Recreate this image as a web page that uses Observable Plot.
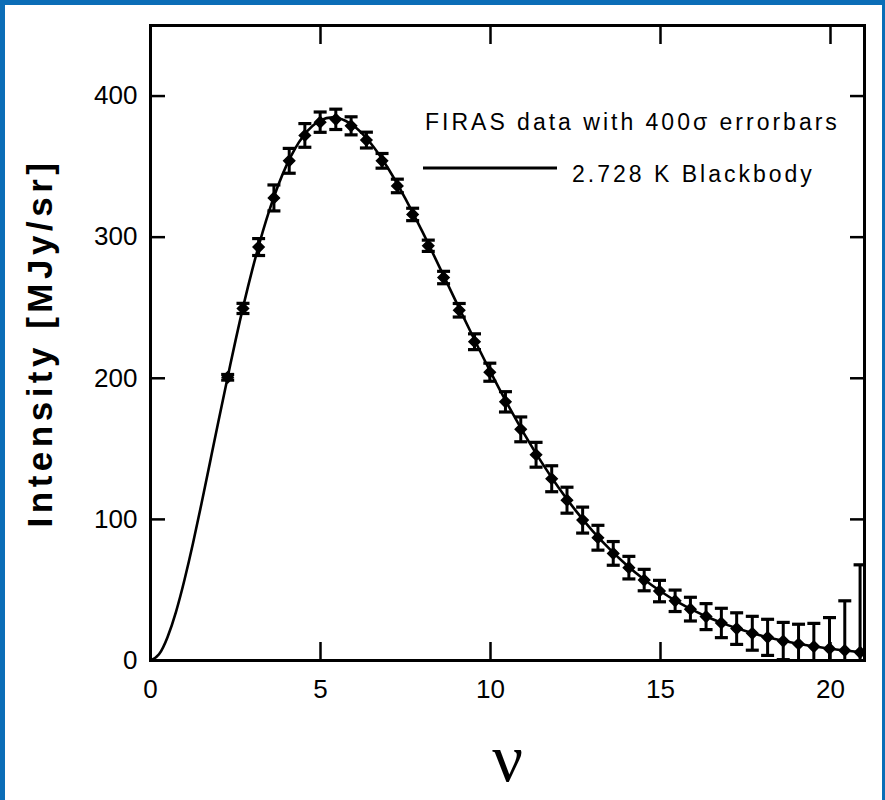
<!DOCTYPE html>
<html><head><meta charset="utf-8">
<script src="https://cdn.jsdelivr.net/npm/d3@7"></script>
<script src="https://cdn.jsdelivr.net/npm/@observablehq/plot@0.6"></script>
<style>
html,body{margin:0;padding:0;background:#fff;}
#wrap{position:relative;width:885px;height:800px;overflow:hidden;background:#fff;}
#chart svg{display:block;}
#border{position:absolute;left:0;top:0;width:885px;height:800px;box-sizing:border-box;border-top:5px solid #0b6db7;border-left:5px solid #0b6db7;border-right:3px solid #0b6db7;pointer-events:none;}
</style></head><body>
<div id="wrap"><div id="chart"></div><div id="border"></div></div>
<script>
// FIRAS data: frequency (cm^-1), intensity (MJy/sr), 400-sigma error (MJy/sr)
const firasNu = [2.27,2.72,3.18,3.63,4.08,4.54,4.99,5.45,5.90,6.35,6.81,7.26,7.71,8.17,8.62,9.08,9.53,9.98,10.44,10.89,11.34,11.80,12.25,12.71,13.16,13.61,14.07,14.52,14.97,15.43,15.88,16.34,16.79,17.24,17.70,18.15,18.61,19.06,19.51,19.97,20.42,20.87,21.33];
const firasI = [200.7,249.5,293.0,327.8,354.1,372.1,381.5,383.5,378.9,368.8,354.1,336.3,316.1,293.9,271.4,248.2,225.9,204.3,183.3,163.8,145.8,128.8,113.6,99.5,87.0,75.9,65.8,57.0,49.2,42.3,36.4,31.1,26.6,22.6,19.3,16.4,13.8,11.7,9.9,8.4,7.1,5.8,4.5];
const firasErr = [2.0,3.6,6.0,9.2,8.8,8.4,7.2,7.2,6.4,5.6,5.2,4.8,4.4,4.0,4.4,4.8,5.6,6.4,7.2,8.8,8.8,9.2,9.2,9.2,8.8,8.4,8.0,7.6,7.6,7.6,8.4,9.2,10.4,11.2,12.0,12.8,13.2,14.0,16.4,22.0,35.2,62.0,112.8];

// 2.728 K blackbody curve
const curveNu = [0,0.25,0.5,0.75,1,1.25,1.5,1.75,2,2.5,3,3.5,4,4.5,5,5.5,6,6.5,7,7.5,8,8.5,9,9.5,10,10.5,11,11.5,12,12.5,13,13.5,14,14.5,15,15.5,16,16.5,17,17.5,18,18.5,19,19.5,20,20.5,21];
const curveI = [0,4.4,16.5,34.5,57.2,83.1,111.2,140.4,169.8,226.7,277.5,319.3,350.9,371.9,382.8,384.5,378.4,365.8,348.3,327.1,303.7,278.8,253.6,228.7,204.5,181.6,160.3,140.6,122.6,106.4,91.9,79.1,67.7,57.8,49.1,41.6,35.2,29.6,24.9,20.9,17.4,14.5,12.1,10.1,8.3,6.9,5.7];

const xTicks = [0,5,10,15,20];
const xTicksTop = [5,10,15,20];
const yTicks = [0,100,200,300,400];
const yTicksRight = [100,200,300,400];
const legendData = "FIRAS data with 400σ errorbars";
const legendModel = "2.728 K Blackbody";
const yLabel = "Intensity [MJy/sr]";
const xLabel = "ν";

const firas = firasNu.map((nu, i) => ({nu, I: firasI[i], err: firasErr[i]}));
const curve = curveNu.map((nu, i) => ({nu, I: curveI[i]}));

const hbar = {draw(ctx, size) { const w = Math.sqrt(size / Math.PI); ctx.moveTo(-w, 0); ctx.lineTo(w, 0); }};
const tickFont = "'Liberation Sans Narrow','Arial Narrow','Liberation Sans',Arial,sans-serif";

const chart = Plot.plot({
  width: 885, height: 800,
  marginLeft: 150, marginRight: 21, marginTop: 25, marginBottom: 140,
  style: {background: "transparent", color: "black"},
  x: {domain: [0, 21], axis: null},
  y: {domain: [0, 450], axis: null},
  marks: [
    Plot.line(curve, {x: "nu", y: "I", curve: "natural", stroke: "black", strokeWidth: 2.6, clip: true}),
    Plot.ruleX(firas, {x: "nu", y1: d => d.I - d.err, y2: d => d.I + d.err, stroke: "black", strokeWidth: 3, clip: true}),
    Plot.dot(firas, {x: "nu", y: d => d.I + d.err, symbol: hbar, r: 6.5, stroke: "black", strokeWidth: 3.2, fill: "none", clip: true}),
    Plot.dot(firas, {x: "nu", y: d => d.I - d.err, symbol: hbar, r: 6.5, stroke: "black", strokeWidth: 3.2, fill: "none", clip: true}),
    Plot.dot(firas, {x: "nu", y: "I", r: 5, symbol: "diamond2", fill: "black", stroke: "black", strokeWidth: 1.5, clip: true}),
    Plot.axisX({anchor: "bottom", ticks: xTicks, tickSize: -18, tickPadding: 37, strokeWidth: 2.5, fontSize: 26, fontFamily: tickFont, label: null}),
    Plot.axisX({anchor: "top", ticks: xTicksTop, tickSize: -18, strokeWidth: 2.5, tickFormat: () => "", label: null}),
    Plot.axisY({anchor: "left", ticks: yTicks, tickSize: -15, tickPadding: 28, strokeWidth: 2.5, fontSize: 26, fontFamily: tickFont, label: null}),
    Plot.axisY({anchor: "right", ticks: yTicksRight, tickSize: -15, strokeWidth: 2.5, tickFormat: () => "", label: null}),
    Plot.frame({stroke: "black", strokeWidth: 3}),
    Plot.text([yLabel], {frameAnchor: "left", dx: -110, rotate: -90, textAnchor: "middle", fontSize: 35, fontWeight: "bold", fontFamily: "'Liberation Sans',Arial,sans-serif", fill: "black"}),
    Plot.text([xLabel], {frameAnchor: "bottom", dy: 120, lineAnchor: "bottom", fontSize: 68, fontFamily: "'Liberation Serif','Times New Roman',serif", fill: "black"})
  ]
});
document.getElementById("chart").appendChild(chart);

const svg = d3.select(chart);
// letter spacing for the wide, old-style lettering
svg.selectAll("text").filter(function() { return this.textContent === yLabel; }).style("letter-spacing", "4.5px");

// legend
const lg = svg.append("g").attr("font-family", "'Liberation Sans',Arial,sans-serif").attr("font-size", 23).attr("fill", "black").attr("text-anchor", "start").style("letter-spacing", "3px");
lg.append("text").attr("x", 425).attr("y", 130).text(legendData);
lg.append("line").attr("x1", 423).attr("x2", 557).attr("y1", 168).attr("y2", 168).attr("stroke", "black").attr("stroke-width", 3);
lg.append("text").attr("x", 572).attr("y", 182).text(legendModel);
</script>
</body></html>
